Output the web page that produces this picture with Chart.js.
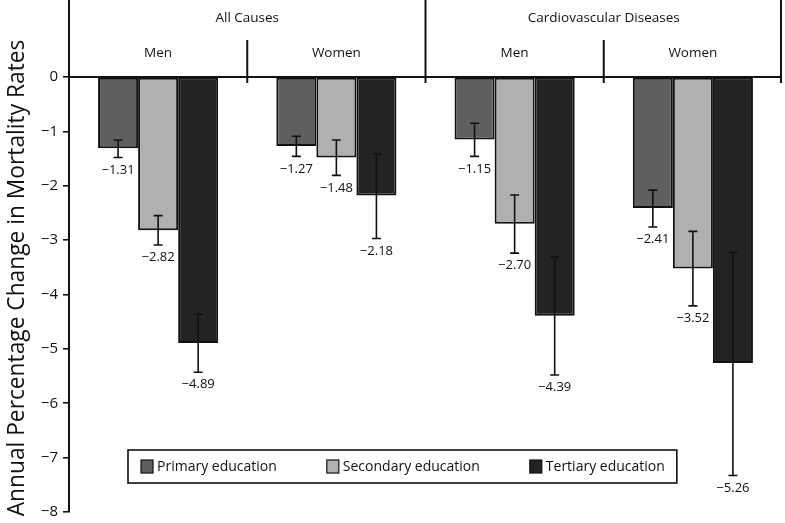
<!DOCTYPE html>
<html>
<head>
<meta charset="utf-8">
<script src="https://cdn.jsdelivr.net/npm/chart.js@4"></script>
<style>
  html, body { margin: 0; padding: 0; background: #fff; }
  #wrap { width: 785px; height: 523px; }
</style>
</head>
<body>
<div id="wrap"><canvas id="chart"></canvas></div>
<script>
// groups along the x axis
const groups = ['Men', 'Women', 'Men', 'Women']
const causes = ['All Causes', 'Cardiovascular Diseases']
const seriesNames = ['Primary education', 'Secondary education', 'Tertiary education']

// annual % change with 95% CI
const primary = [-1.31, -1.27, -1.15, -2.41]
const primaryLow = [-1.48, -1.46, -1.46, -2.76]
const primaryHigh = [-1.16, -1.09, -0.85, -2.08]

const secondary = [-2.82, -1.48, -2.70, -3.52]
const secondaryLow = [-3.09, -1.81, -3.24, -4.21]
const secondaryHigh = [-2.55, -1.16, -2.17, -2.84]

const tertiary = [-4.89, -2.18, -4.39, -5.26]
const tertiaryLow = [-5.43, -2.97, -5.48, -7.33]
const tertiaryHigh = [-4.36, -1.41, -3.31, -3.23]

const yTicks = [0, -1, -2, -3, -4, -5, -6, -7, -8]

const colors = ['#5f5f5f', '#b0b0b0', '#232323']
const lows = [primaryLow, secondaryLow, tertiaryLow]
const highs = [primaryHigh, secondaryHigh, tertiaryHigh]
const FONT = '"Open Sans", "Noto Sans", sans-serif'

const minus = v => (v < 0 ? '\u2212' : '') + Math.abs(v)

// error bars, value labels, header row, legend, axis title
const extras = {
    id: 'extras',
    afterDatasetsDraw(chart) {
        const ctx = chart.ctx
        const ca = chart.chartArea
        const x = chart.scales.x
        const y = chart.scales.y
        const zero = y.getPixelForValue(0)
        ctx.save()

        // error bars + labels
        chart.data.datasets.forEach((ds, di) => {
            const meta = chart.getDatasetMeta(di)
            meta.data.forEach((bar, i) => {
                const yl = y.getPixelForValue(lows[di][i])
                const yh = y.getPixelForValue(highs[di][i])
                ctx.strokeStyle = '#111'
                ctx.lineWidth = 1.6
                ctx.beginPath()
                ctx.moveTo(bar.x, yh); ctx.lineTo(bar.x, yl)
                ctx.moveTo(bar.x - 4.5, yh); ctx.lineTo(bar.x + 4.5, yh)
                ctx.moveTo(bar.x - 4.5, yl); ctx.lineTo(bar.x + 4.5, yl)
                ctx.stroke()

                ctx.fillStyle = '#111'
                ctx.font = '13px ' + FONT
                ctx.textAlign = 'center'
                ctx.textBaseline = 'middle'
                ctx.fillText('\u2212' + Math.abs(ds.data[i]).toFixed(2), bar.x, yl + 12.5)
            })
        })

        // zero line
        ctx.strokeStyle = '#111'
        ctx.lineWidth = 2
        ctx.beginPath()
        ctx.moveTo(ca.left, zero); ctx.lineTo(ca.right, zero)
        ctx.stroke()

        // dividers in header
        const mid = i => (x.getPixelForValue(i) + x.getPixelForValue(i + 1)) / 2
        ctx.lineWidth = 2
        ctx.beginPath()
        ctx.moveTo(mid(0), ca.top + 40); ctx.lineTo(mid(0), zero + 6)
        ctx.moveTo(mid(2), ca.top + 40); ctx.lineTo(mid(2), zero + 6)
        ctx.moveTo(mid(1), ca.top); ctx.lineTo(mid(1), zero + 6)
        ctx.moveTo(ca.right - 1, ca.top); ctx.lineTo(ca.right - 1, zero + 6)
        ctx.stroke()

        // header texts
        ctx.fillStyle = '#111'
        ctx.font = '13.5px ' + FONT
        ctx.textAlign = 'center'
        ctx.textBaseline = 'middle'
        ctx.fillText(causes[0], mid(0), ca.top + 18)
        ctx.fillText(causes[1], mid(2), ca.top + 18)
        groups.forEach((g, i) => ctx.fillText(g, x.getPixelForValue(i), ca.top + 53))

        // legend box
        ctx.font = '14px ' + FONT
        const lx = ca.left + 59, ly = y.getPixelForValue(-6.86)
        const boxH = 33
        let cx = lx + 13
        const itemX = []
        seriesNames.forEach((n, i) => {
            itemX.push(cx)
            cx += 12 + 4 + ctx.measureText(n).width + 50
        })
        const boxW = cx - 50 + 12 - lx
        ctx.lineWidth = 1.6
        ctx.strokeStyle = '#111'
        ctx.strokeRect(lx, ly, boxW, boxH)
        seriesNames.forEach((n, i) => {
            ctx.fillStyle = colors[i]
            ctx.fillRect(itemX[i], ly + 10, 12, 13)
            ctx.lineWidth = 1.2
            ctx.strokeRect(itemX[i], ly + 10, 12, 13)
            ctx.fillStyle = '#111'
            ctx.textAlign = 'left'
            ctx.fillText(n, itemX[i] + 16, ly + boxH / 2 + 0.5)
        })

        // y axis title
        const title = 'Annual Percentage Change in Mortality Rates'
        let size = 21
        ctx.font = size + 'px ' + FONT
        size = size * 477 / ctx.measureText(title).width
        ctx.font = size + 'px ' + FONT
        ctx.translate(18, 278)
        ctx.rotate(-Math.PI / 2)
        ctx.textAlign = 'center'
        ctx.textBaseline = 'middle'
        ctx.fillStyle = '#111'
        ctx.fillText(title, 0, 0)

        ctx.restore()
    }
}

const ctx = document.getElementById('chart')
new Chart(ctx, {
    type: 'bar',
    data: {
        labels: groups,
        datasets: [primary, secondary, tertiary].map((d, i) => ({
            label: seriesNames[i],
            data: d,
            backgroundColor: colors[i],
            borderColor: '#111',
            borderWidth: 2,
            borderSkipped: false,
            barPercentage: 1,
            categoryPercentage: 0.674
        }))
    },
    options: {
        responsive: true,
        maintainAspectRatio: false,
        animation: false,
        layout: { padding: { top: 0, right: 3, bottom: 11, left: 0 } },
        plugins: { legend: { display: false }, tooltip: { enabled: false } },
        scales: {
            x: { display: false },
            y: {
                min: -8,
                max: 1.416,
                afterBuildTicks: s => { s.ticks = yTicks.map(v => ({ value: v })) },
                afterFit: s => {
                    s.width = 69
                    s.paddingTop = 0
                    s.paddingBottom = 0
                },
                border: { color: '#111', width: 2 },
                grid: { drawOnChartArea: false, color: '#111', lineWidth: 1.6, tickLength: 6 },
                ticks: {
                    color: '#111',
                    padding: 5,
                    font: { family: FONT, size: 15 },
                    callback: v => minus(v)
                }
            }
        }
    },
    plugins: [extras]
})
</script>
</body>
</html>
